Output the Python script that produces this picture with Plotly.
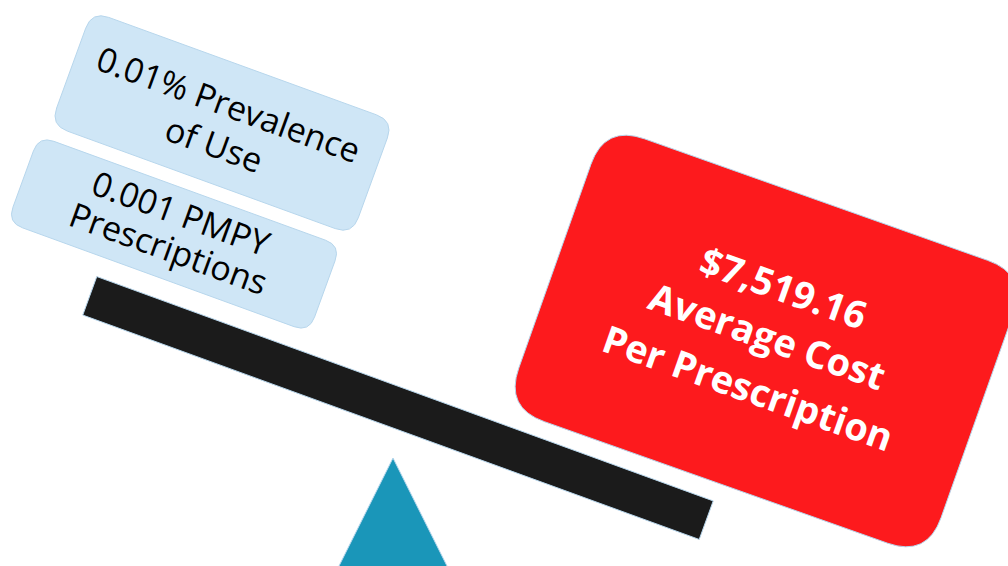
import math
import plotly.graph_objects as go

W, H = 1008, 566

# ---- content (text) ----
left_top_lines = ["0.01% Prevalence", "of Use"]
left_bottom_lines = ["0.001 PMPY", "Prescriptions"]
right_lines = ["$7,519.16", "Average Cost", "Per Prescription"]

# ---- geometry (pixel space) ----
# name: (cx, cy, w, h, angle_deg, radius)
box_top = (222, 123, 321, 121, 20.0, 18)
box_bot = (174, 234, 321, 92, 20.0, 16)
box_red = (766, 341, 448, 300, 19.5, 42)
beam = (398, 408, 656, 41, 20.0, 0)
fulcrum_apex = (393, 458)
fulcrum_half_base = 56

BLUE = "#cfe6f6"
RED = "#fd1a1d"
BLACK = "#1b1b1b"
TEAL = "#1a96b9"
EDGE = "#b7d6ec"


def xf(cx, cy, th, a, b):
    c, s = math.cos(th), math.sin(th)
    return cx + a * c - b * s, cy + a * s + b * c


def rrect_path(cx, cy, w, h, ang, r):
    th = math.radians(ang)
    hw, hh = w / 2, h / 2
    P = lambda a, b: "%.2f,%.2f" % xf(cx, cy, th, a, b)
    if r <= 0:
        return "M %s L %s L %s L %s Z" % (P(-hw, -hh), P(hw, -hh), P(hw, hh), P(-hw, hh))
    d = "M %s " % P(-hw + r, -hh)
    d += "L %s Q %s %s " % (P(hw - r, -hh), P(hw, -hh), P(hw, -hh + r))
    d += "L %s Q %s %s " % (P(hw, hh - r), P(hw, hh), P(hw - r, hh))
    d += "L %s Q %s %s " % (P(-hw + r, hh), P(-hw, hh), P(-hw, hh - r))
    d += "L %s Q %s %s Z" % (P(-hw, -hh + r), P(-hw, -hh), P(-hw + r, -hh))
    return d


shapes = []
for geom, fill in [(box_top, BLUE), (box_bot, BLUE), (beam, BLACK), (box_red, RED)]:
    shapes.append(dict(type="path", path=rrect_path(*geom), xref="x", yref="y",
                       fillcolor=fill, line=dict(color=EDGE, width=1), layer="below"))

ax, ay = fulcrum_apex
tri = "M %.1f,%.1f L %.1f,%.1f L %.1f,%.1f Z" % (
    ax, ay, ax + fulcrum_half_base, H + 4, ax - fulcrum_half_base, H + 4)
shapes.append(dict(type="path", path=tri, xref="x", yref="y",
                   fillcolor=TEAL, line=dict(color=EDGE, width=1), layer="below"))

annotations = []


def add_lines(geom, lines, offsets_v, u_off, size, color, weight):
    cx, cy, w, h, ang, r = geom
    th = math.radians(ang)
    for txt, v in zip(lines, offsets_v):
        x, y = xf(cx, cy, th, u_off, v)
        annotations.append(dict(x=x, y=y, xref="x", yref="y", text=txt,
                                showarrow=False, textangle=ang,
                                xanchor="center", yanchor="middle",
                                font=dict(family="Open Sans", size=size,
                                          color=color, weight=weight)))


add_lines(box_top, left_top_lines, [-20, 22], 0, 34, "#000000", "normal")
add_lines(box_bot, left_bottom_lines, [-22, 15], 0, 34, "#000000", "normal")
add_lines(box_red, right_lines, [-57, -6, 49], -1, 38, "#ffffff", "bold")

fig = go.Figure()
fig.update_layout(
    width=W, height=H, autosize=False,
    margin=dict(l=0, r=0, t=0, b=0),
    paper_bgcolor="white", plot_bgcolor="white",
    xaxis=dict(range=[0, W], visible=False, fixedrange=True),
    yaxis=dict(range=[H, 0], visible=False, fixedrange=True),
    shapes=shapes, annotations=annotations, showlegend=False,
)
fig.write_html("out.html")
